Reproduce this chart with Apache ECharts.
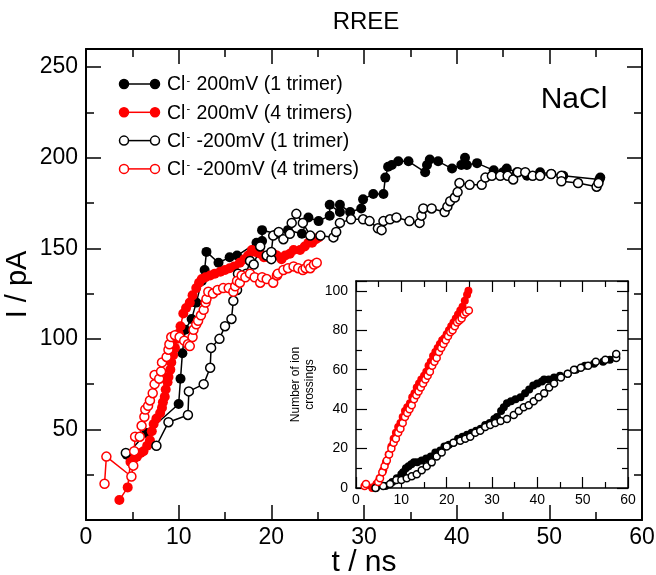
<!DOCTYPE html>
<html><head><meta charset="utf-8">
<script src="https://cdn.jsdelivr.net/npm/echarts@6/dist/echarts.min.js"></script>
<style>html,body{margin:0;padding:0;background:#fff}#c{width:656px;height:575px}</style>
</head><body><div id="c"></div>
<script>
// ---------- data (t in ns, current in pA) ----------
const blackFilled = [[4.4,36],[6.5,48],[10.0,64],[10.2,78],[10.4,92],[10.7,105],[11.4,111],[11.9,120],[12.5,132],[12.8,138],[13.0,148],[14.3,142],[15.5,145],[16.3,146],[18.4,153],[19.0,154],[19.0,160],[20.6,158],[21.8,160],[23.3,158],[24.0,167],[25.1,165],[26.3,168],[26.3,174],[27.4,170],[27.4,174],[28.5,170],[29.7,172],[29.9,177],[31.0,180],[32.1,180],[32.3,189],[32.6,195],[33.0,196],[33.7,198],[34.8,198],[36.6,192],[36.8,196],[37.1,199],[38.0,198],[39.5,194],[40.5,196],[40.9,200],[41.1,196],[42.2,197],[44.0,193],[45.0,192],[45.4,194],[46.5,192],[47.6,190],[49.0,192],[50.2,191],[51.5,190],[55.4,188],[55.5,189]];
const redFilled = [[3.6,11],[4.5,18],[4.8,32],[5.2,34],[5.5,35],[5.9,37],[6.2,38],[6.6,41],[6.9,44],[7.1,49],[7.3,53],[7.6,56],[8.0,59],[8.2,62],[8.3,65],[8.5,68],[8.6,72],[8.8,76],[8.9,79],[9.1,83],[9.2,87],[9.4,91],[9.6,95],[9.8,100],[10.0,103],[10.2,107],[10.5,114],[10.8,117],[11.2,120],[11.5,124],[11.9,128],[12.2,131],[12.5,133],[12.9,134],[13.4,135],[13.9,136],[14.5,137],[15.0,138],[15.5,139],[16.0,140],[16.6,142],[17.1,144],[17.5,146],[17.9,149],[18.3,148],[18.8,147],[19.2,145],[19.6,145],[20.2,147],[20.6,146],[21.1,144],[21.5,146],[22.0,147],[22.4,149],[23.1,149],[23.6,151],[24.0,153],[24.4,153],[24.8,155],[25.1,156]];
const blackOpen = [[4.3,37],[7.6,41],[8.9,54],[11.0,58],[11.1,71],[12.7,75],[13.4,84],[13.5,95],[14.4,100],[15.0,107],[15.7,111],[15.9,121],[16.3,127],[16.4,136],[17.3,136],[17.7,143],[18.1,141],[18.8,151],[19.5,146],[20.0,144],[20.0,148],[20.2,157],[20.8,159],[21.3,155],[22.0,158],[22.2,164],[22.7,169],[23.4,164],[24.2,157],[25.3,157],[26.7,156],[27.0,159],[27.4,164],[28.6,166],[29.9,166],[30.6,165],[31.5,161],[31.9,160],[32.1,165],[32.8,166],[33.5,167],[34.9,165],[36.0,164],[36.2,168],[36.4,172],[37.3,172],[38.7,170],[39.0,173],[39.3,176],[39.8,178],[40.1,181],[40.3,186],[41.4,185],[42.7,185],[43.1,189],[43.8,190],[44.7,190],[45.5,190],[46.1,188],[46.6,192],[47.4,192],[48.2,190],[49.0,190],[50.2,191],[51.3,190],[51.3,187],[53.1,186],[55.1,184],[55.3,186]];
const redOpen = [[2.0,20],[2.2,35],[4.9,24],[5.1,30],[5.2,38],[5.3,46],[5.8,46],[6.0,52],[6.3,57],[6.4,61],[6.7,63],[6.9,66],[7.2,70],[7.4,75],[7.4,80],[7.9,78],[8.1,82],[8.2,87],[8.7,90],[8.9,94],[9.0,97],[9.2,101],[9.6,102],[10.1,101],[10.6,99],[11.0,97],[11.2,96],[11.5,101],[11.6,105],[11.9,108],[12.1,110],[12.4,113],[12.7,116],[12.9,120],[13.0,122],[13.2,126],[13.7,125],[14.2,127],[14.8,128],[15.4,128],[15.9,126],[16.1,129],[16.3,132],[16.6,131],[16.8,135],[17.2,134],[17.7,136],[18.2,134],[18.8,131],[19.0,134],[19.5,133],[20.2,131],[20.6,135],[20.7,136],[21.3,138],[21.8,139],[22.4,140],[22.9,139],[23.4,138],[23.7,139],[24.0,141],[24.2,139],[24.6,141],[24.9,142]];

// inset: number of ion crossings vs t
const insetBlackFilled = [[4.4,0],[6.5,1],[8.0,3],[9.0,5],[10.0,7],[10.4,8],[11.0,10],[11.6,11],[12.2,12],[12.8,13],[13.5,13],[14.5,14],[15.5,15],[16.5,16],[17.5,18],[18.6,19],[19.5,21],[20.5,22],[21.5,23],[22.5,25],[23.5,26],[24.5,27],[25.5,28],[26.5,29],[27.5,30],[28.5,32],[29.5,33],[30.5,35],[31.1,36],[32.0,39],[32.6,41],[33.3,43],[34.2,44],[35.2,45],[36.3,46],[37.3,48],[38.2,50],[39.1,52],[40.0,53],[41.0,54],[41.5,55],[42.5,55],[43.7,56],[45.0,57],[46.7,58],[48.5,60],[50.5,62],[52.5,63],[54.5,64],[56.0,65],[57.4,67]];
const insetRedFilled = [[3.6,0],[4.5,2],[5.2,5],[6.0,9],[6.6,13],[7.2,17],[7.8,21],[8.3,25],[8.8,28],[9.3,31],[9.8,33],[10.3,36],[10.8,39],[11.3,41],[11.9,43],[12.4,46],[12.9,48],[13.4,51],[13.9,53],[14.4,55],[15.0,57],[15.5,59],[16.0,62],[16.5,64],[17.0,67],[17.5,69],[18.0,71],[18.5,73],[19.0,75],[19.5,76],[20.0,78],[20.5,80],[21.0,82],[21.5,84],[22.0,86],[22.5,88],[23.0,90],[23.5,92],[24.0,95],[24.5,98],[24.8,100]];
const insetBlackOpen = [[4.3,0],[6.0,1],[7.5,2],[8.9,4],[10.0,4],[11.2,5],[12.3,6],[13.4,7],[14.5,9],[15.6,11],[16.7,13],[17.8,16],[18.9,18],[20.0,21],[21.5,23],[23.0,24],[24.1,25],[25.2,26],[26.3,28],[27.4,29],[28.5,31],[29.6,32],[30.7,33],[31.9,34],[33.3,35],[34.8,37],[35.9,39],[37.0,41],[38.1,42],[39.2,44],[40.3,46],[41.5,48],[42.6,51],[43.7,53],[45.2,56],[46.7,58],[48.1,60],[49.6,61],[51.2,62],[52.9,64],[55.0,65],[57.4,66],[57.4,68]];
const insetRedOpen = [[1.9,1],[2.2,2],[4.9,3],[5.3,5],[5.8,8],[6.3,11],[6.8,14],[7.3,17],[7.8,20],[8.3,23],[8.8,25],[9.3,28],[9.8,30],[10.3,33],[10.8,36],[11.3,38],[11.8,40],[12.3,42],[12.8,45],[13.3,47],[13.8,49],[14.3,51],[14.8,53],[15.3,55],[15.8,57],[16.3,59],[16.8,62],[17.3,64],[17.8,66],[18.3,69],[18.8,71],[19.3,73],[19.8,75],[20.3,77],[20.8,79],[21.3,80],[21.8,82],[22.3,84],[22.8,85],[23.3,86],[23.8,88],[24.3,89],[24.9,90]];

const legendNames = ['200mV (1 trimer)','200mV (4 trimers)','-200mV (1 trimer)','-200mV (4 trimers)'];
const titleText = 'RREE';
const saltText = 'NaCl';

// ---------- styles ----------
const FONT = 'Liberation Sans, Arial, Helvetica, sans-serif';
const RED = '#ff0000', BLK = '#000000';

function axisBase(o){
  return Object.assign({
    type:'value', splitLine:{show:false}, minorSplitLine:{show:false},
    nameMoveOverlap:false,
    axisLine:{show:true, onZero:false, lineStyle:{color:BLK, width:o.big?2:1.5}},
    axisTick:{show:true, inside:true, length:o.big?15:11, lineStyle:{color:BLK, width:o.big?1.5:1.2}},
    minorTick:{show:true, splitNumber:2, length:o.big?8:6, lineStyle:{color:BLK, width:o.big?1.5:1.2}},
  }, o.extra);
}
function lbl(size, margin, hideFn){
  return {show:true, color:BLK, fontSize:size, fontFamily:FONT, margin:margin,
    formatter: v => hideFn(v) ? '' : String(v)};
}

const xAxes = [
  axisBase({big:true, extra:{gridIndex:0, position:'bottom', min:0, max:60, interval:10,
    axisLabel: lbl(23, 6, v=>false),
    name:'t / ns', nameLocation:'middle', nameGap:28,
    nameTextStyle:{fontSize:30, fontFamily:FONT, color:BLK, verticalAlign:'top'}}}),
  axisBase({big:true, extra:{gridIndex:0, position:'top', min:0, max:60, interval:10, axisLabel:{show:false}}}),
  axisBase({big:false, extra:{gridIndex:1, position:'bottom', min:0, max:60, interval:10,
    axisLabel: lbl(14, 5, v=>false)}}),
  axisBase({big:false, extra:{gridIndex:1, position:'top', min:0, max:60, interval:10, axisLabel:{show:false}}})
];
const yAxes = [
  axisBase({big:true, extra:{gridIndex:0, position:'left', min:0, max:260, interval:50,
    axisLabel: lbl(23, 8, v=> v===0 || v%50!==0),
    name:'I / pA', nameLocation:'middle', nameGap:54, nameRotate:90,
    nameTextStyle:{fontSize:29, fontFamily:FONT, color:BLK}}}),
  axisBase({big:true, extra:{gridIndex:0, position:'right', min:0, max:260, interval:50, axisLabel:{show:false}}}),
  axisBase({big:false, extra:{gridIndex:1, position:'left', min:0, max:105, interval:20,
    axisLabel: lbl(14, 8, v=> v%20!==0),
    name:'Number of ion\ncrossings', nameLocation:'middle', nameGap:39, nameRotate:90,
    nameTextStyle:{fontSize:12, fontFamily:FONT, color:BLK, lineHeight:14}}}),
  axisBase({big:false, extra:{gridIndex:1, position:'right', min:0, max:105, interval:20, axisLabel:{show:false}}})
];

function ser(name, data, color, open, inset){
  const sz = inset ? 8 : 10;
  return {
    name, type:'line', data, xAxisIndex: inset?2:0, yAxisIndex: inset?2:0,
    symbol:'circle', symbolSize: open ? sz-1 : sz, showSymbol:true,
    lineStyle:{color, width: inset?1:1.5},
    itemStyle: open ? {color:'#fff', borderColor:color, borderWidth:1.5} : {color, borderWidth:0},
    emphasis:{disabled:true}, animation:false, silent:true, z: 3
  };
}
// empty series binding the mirrored (top/right) axes so they are laid out
function mirror(xi, yi){ return {type:'line', data:[], xAxisIndex:xi, yAxisIndex:yi, silent:true}; }

// legend drawn manually (line + marker at each end)
const legendRows = [
  {c:BLK, open:false}, {c:RED, open:false}, {c:BLK, open:true}, {c:RED, open:true}
];
const legendGraphics = [];
legendRows.forEach((r,i)=>{
  const y = 84 + i*28.3;
  legendGraphics.push({type:'line', shape:{x1:124, y1:y, x2:155, y2:y}, style:{stroke:r.c, lineWidth:1.5}});
  [124,155].forEach(x=>legendGraphics.push({type:'circle', shape:{cx:x, cy:y, r:4.5},
    style:{fill: r.open?'#fff':r.c, stroke:r.c, lineWidth:1.5}}));
  legendGraphics.push({type:'text', x:167, y:y+1, style:{
    text:'Cl{s|-} ' + legendNames[i], fontSize:19.5, fontFamily:FONT, fill:BLK, verticalAlign:'middle',
    rich:{s:{fontSize:11, fontFamily:FONT, verticalAlign:'top', lineHeight:10, padding:[0,1,12,1]}}}});
});

const option = {
  backgroundColor:'#fff', animation:false,
  grid:[
    {left:86, right:14, top:49, bottom:55, containLabel:false, outerBoundsMode:'none'},
    {left:356, right:28, top:281, bottom:87, show:true, backgroundColor:'#fff', borderWidth:0, z:5, containLabel:false, outerBoundsMode:'none'}
  ],
  xAxis: xAxes.map((a,i)=>Object.assign(a,{z: i>=2?6:2})),
  yAxis: yAxes.map((a,i)=>Object.assign(a,{z: i>=2?6:2})),
  series:[
    ser('bf', blackFilled, BLK, false, false),
    ser('rf', redFilled, RED, false, false),
    ser('bo', blackOpen, BLK, true, false),
    ser('ro', redOpen, RED, true, false),
    Object.assign(ser('ibf', insetBlackFilled, BLK, false, true),{z:7}),
    Object.assign(ser('irf', insetRedFilled, RED, false, true),{z:7}),
    Object.assign(ser('ibo', insetBlackOpen, BLK, true, true),{z:7}),
    Object.assign(ser('iro', insetRedOpen, RED, true, true),{z:7}),
    mirror(1,1), mirror(3,3)
  ],
  graphic:[
    {type:'text', x:366, y:22, style:{text:titleText, fontSize:24, fontFamily:FONT, fill:BLK, align:'center', verticalAlign:'middle'}},
    {type:'text', x:574, y:100, style:{text:saltText, fontSize:30, fontFamily:FONT, fill:BLK, align:'center', verticalAlign:'middle'}},
    ...legendGraphics
  ]
};
const chart = echarts.init(document.getElementById('c'), null, {renderer:'canvas'});
chart.setOption(option);
</script></body></html>
